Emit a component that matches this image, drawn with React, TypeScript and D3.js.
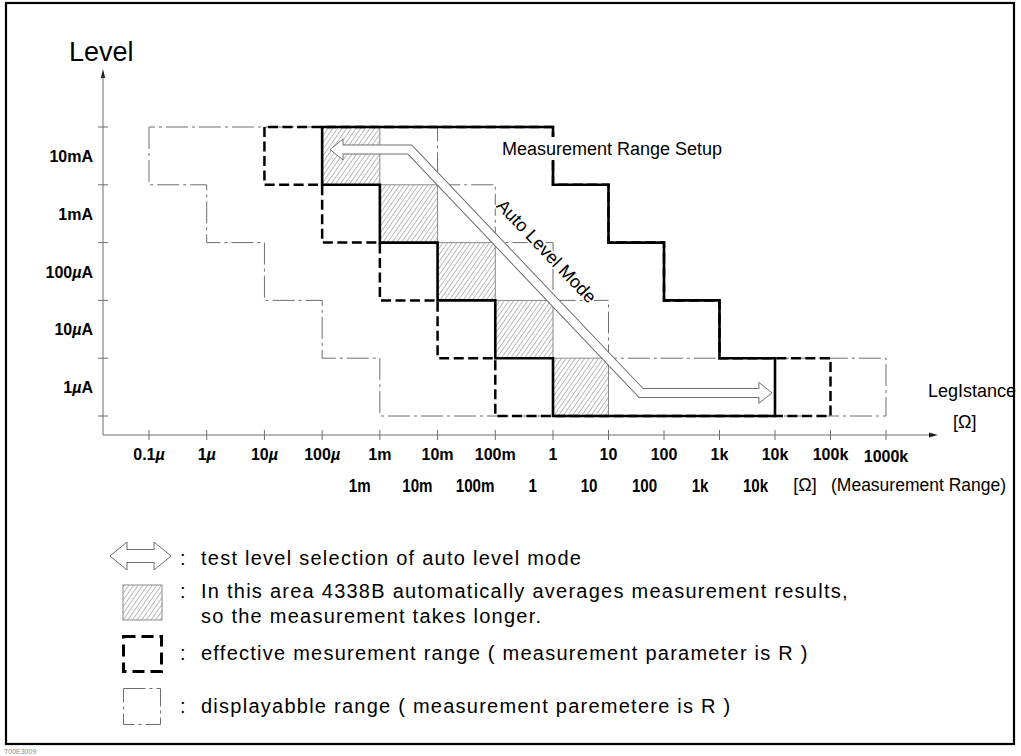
import React from "react";
import * as d3 from "d3";

// ---------- data ----------
const levels = ["10mA", "1mA", "100µA", "10µA", "1µA"];
const ohmTicks = [1e-7, 1e-6, 1e-5, 1e-4, 1e-3, 1e-2, 1e-1, 1, 10, 100, 1e3, 1e4, 1e5, 1e6];
const ohmTickLabels = ["0.1µ", "1µ", "10µ", "100µ", "1m", "10m", "100m", "1", "10", "100", "1k", "10k", "100k", "1000k"];
const rangeValues = [1e-3, 1e-2, 1e-1, 1, 10, 100, 1e3, 1e4];
const rangeLabels = ["1m", "10m", "100m", "1", "10", "100", "1k", "10k"];
// per level row (10mA ... 1µA): low / high resistance bounds
const displayLo = [1e-7, 1e-6, 1e-5, 1e-4, 1e-3];
const displayHi = [1e-2, 1e-1, 1, 10, 1e6];
const effectiveLo = [1e-5, 1e-4, 1e-3, 1e-2, 1e-1];
const effectiveHi = [1, 10, 100, 1e3, 1e5];
const setupLo = [1e-4, 1e-3, 1e-2, 1e-1, 1];
const setupHi = [1, 10, 100, 1e3, 1e4];
const avgLo = [1e-4, 1e-3, 1e-2, 1e-1, 1];
const avgHi = [1e-3, 1e-2, 1e-1, 1, 10];
// auto level mode arrow path (resistance, row position)
const autoArrowOhm = [1.37e-4, 3.3e-3, 38.5, 8.8e3];
const autoArrowRow = [0.39, 0.39, 4.6, 4.6];

const legendTexts = [
  "test level selection of auto level mode",
  "In this area 4338B automatically averages measurement results,",
  "so the measurement takes longer.",
  "effective mesurement range ( measurement parameter is R )",
  "displayabble range ( measurement paremetere is R )",
];

// ---------- scales ----------
const x = d3.scaleLog().domain([1e-7, 1, 1e6]).range([149, 553, 886]);
const yRow = d3.scaleLinear().domain([0, 5]).range([127, 416]);
const yBand = d3.scaleBand<string>().domain(levels).range([127, 416]);

const GRAY = "#6e6e6e";
const FONT = "'Liberation Sans', Arial, Helvetica, sans-serif";

function stairs(lo: number[], hi: number[]) {
  const pts: [number, number][] = [];
  lo.forEach((v, i) => {
    pts.push([x(v), yRow(i)]);
    pts.push([x(v), yRow(i + 1)]);
  });
  for (let i = hi.length - 1; i >= 0; i--) {
    pts.push([x(hi[i]), yRow(i + 1)]);
    pts.push([x(hi[i]), yRow(i)]);
  }
  return (d3.line()(pts) as string) + "Z";
}

function HollowArrow({ pts, headLen, headHalf, shaftHalf }: { pts: [number, number][]; headLen: number; headHalf: number; shaftHalf: number }) {
  const n = pts.length;
  const [x0, y0] = pts[0];
  const [x1, y1] = pts[n - 1];
  const outer: [number, number][] = [[x0 + headLen, y0], ...pts.slice(1, n - 1), [x1 - headLen, y1]];
  const inner: [number, number][] = [[x0 + headLen - 2, y0], ...pts.slice(1, n - 1), [x1 - headLen + 2, y1]];
  const line = d3.line();
  return (
    <g>
      <path d={line(outer) as string} fill="none" stroke={GRAY} strokeWidth={shaftHalf * 2 + 2} strokeLinejoin="miter" />
      <path d={`M${x0},${y0}L${x0 + headLen},${y0 - headHalf}L${x0 + headLen},${y0 + headHalf}Z`} fill="#fff" stroke={GRAY} strokeWidth={1} />
      <path d={`M${x1},${y1}L${x1 - headLen},${y1 - headHalf}L${x1 - headLen},${y1 + headHalf}Z`} fill="#fff" stroke={GRAY} strokeWidth={1} />
      <path d={line(inner) as string} fill="none" stroke="#fff" strokeWidth={shaftHalf * 2} strokeLinejoin="miter" />
    </g>
  );
}

function MuText({ label }: { label: string }) {
  const parts = label.split("µ");
  return (
    <>
      {parts.map((p, i) => (
        <React.Fragment key={i}>
          {i > 0 && <tspan fontStyle="italic">µ</tspan>}
          {p && <tspan>{p}</tspan>}
        </React.Fragment>
      ))}
    </>
  );
}

export default function App() {
  const arrowPts: [number, number][] = autoArrowOhm.map((r, i) => [x(r), yRow(autoArrowRow[i])]);
  const b1 = arrowPts[1];
  const b2 = arrowPts[2];
  const ang = (Math.atan2(b2[1] - b1[1], b2[0] - b1[0]) * 180) / Math.PI;
  const mx = (b1[0] + b2[0]) / 2;
  const my = (b1[1] + b2[1]) / 2;
  const rad = (ang * Math.PI) / 180;
  const off = 23;
  const tx = mx + Math.sin(rad) * off;
  const ty = my - Math.cos(rad) * off;

  const legendArrow: [number, number][] = [
    [110, 556],
    [171, 556],
  ];

  return (
    <div style={{ position: "absolute", left: 0, top: 0 }}>
      <svg width={1021} height={756} style={{ display: "block" }} fontFamily={FONT}>
        <defs>
          <pattern id="hatch" patternUnits="userSpaceOnUse" width={3.8} height={3.8} patternTransform="rotate(35)">
            <line x1={0} y1={0} x2={0} y2={3.8} stroke="#666" strokeWidth={0.9} />
          </pattern>
        </defs>
        <rect x={0} y={0} width={1021} height={756} fill="#fff" />
        {/* frame */}
        <rect x={6} y={3} width={1008} height={741} fill="none" stroke="#000" strokeWidth={2.2} />
        <text x={4} y={754} fontSize={7} fill="#888">T00E3009</text>

        {/* axes */}
        <line x1={103} y1={435} x2={103} y2={74} stroke={GRAY} strokeWidth={1} />
        <path d="M103,69 L100.8,78 L105.2,78 Z" fill="#222" />
        <line x1={103} y1={435} x2={932} y2={435} stroke={GRAY} strokeWidth={1} />
        <path d="M938,435 L929,432.6 L929,437.4 Z" fill="#222" />
        {d3.range(6).map((i) => (
          <line key={i} x1={98} x2={108} y1={yRow(i)} y2={yRow(i)} stroke={GRAY} strokeWidth={1} />
        ))}
        {ohmTicks.map((v) => (
          <line key={v} x1={x(v)} x2={x(v)} y1={430} y2={440} stroke={GRAY} strokeWidth={1} />
        ))}

        {/* title */}
        <text x={69} y={61} fontSize={27}>Level</text>

        {/* y labels */}
        {levels.map((l) => (
          <text key={l} x={93} y={(yBand(l) as number) + yBand.bandwidth() / 2 + 6} fontSize={16} fontWeight="bold" textAnchor="end">
            <MuText label={l} />
          </text>
        ))}

        {/* x labels row 1 */}
        {ohmTicks.map((v, i) => (
          <text key={v} x={x(v)} y={i === ohmTicks.length - 1 ? 462 : 460} fontSize={16} fontWeight="bold" textAnchor="middle">
            <MuText label={ohmTickLabels[i]} />
          </text>
        ))}
        {/* x labels row 2 (measurement range) */}
        {rangeValues.map((v, i) => (
          <text key={v} transform={`translate(${x(v * Math.pow(10, -0.35))},492) scale(0.82,1)`} fontSize={18.5} fontWeight="bold" textAnchor="middle">
            {rangeLabels[i]}
          </text>
        ))}
        <text x={805} y={491} fontSize={18} textAnchor="middle">[Ω]</text>
        <text x={831} y={491} fontSize={17.5}>(Measurement Range)</text>
        <text x={928} y={397} fontSize={18}>LegIstance</text>
        <text x={953} y={428} fontSize={18}>[Ω]</text>

        {/* displayable range */}
        <path d={stairs(displayLo, displayHi)} fill="none" stroke={GRAY} strokeWidth={1} strokeDasharray="22 4 3 4" />

        {/* averaging cells */}
        {avgLo.map((lo, i) => (
          <rect key={i} x={x(lo)} y={yRow(i)} width={x(avgHi[i]) - x(lo)} height={yRow(i + 1) - yRow(i)} fill="url(#hatch)" stroke="#8a8a8a" strokeWidth={1} />
        ))}

        {/* effective range */}
        <path d={stairs(effectiveLo, effectiveHi)} fill="none" stroke="#000" strokeWidth={2.5} strokeDasharray="10 4.5" />
        {/* measurement range setup */}
        <path d={stairs(setupLo, setupHi)} fill="none" stroke="#000" strokeWidth={2.6} strokeLinejoin="miter" />

        {/* measurement range setup label */}
        <rect x={499} y={137} width={232} height={23} fill="#fff" />
        <text x={502} y={155} fontSize={18}>Measurement Range Setup</text>

        {/* auto level arrow */}
        <HollowArrow pts={arrowPts} headLen={13} headHalf={10.5} shaftHalf={4} />
        <text transform={`translate(${tx},${ty}) rotate(${ang})`} fontSize={18} textAnchor="middle" stroke="#fff" strokeWidth={3} paintOrder="stroke" fill="#000">
          Auto Level Mode
        </text>

        {/* legend */}
        <HollowArrow pts={legendArrow} headLen={17} headHalf={14} shaftHalf={6} />
        <rect x={123} y={585} width={39} height={35} fill="url(#hatch)" stroke="#8a8a8a" strokeWidth={1} />
        <rect x={123.5} y={636.5} width={38} height={35} fill="none" stroke="#000" strokeWidth={3} strokeDasharray="12 6" />
        <rect x={123.5} y={688.5} width={37} height={36} fill="none" stroke={GRAY} strokeWidth={1} strokeDasharray="22 4 3 4" />
        {[565, 598, 660, 713].map((yy) => (
          <text key={yy} x={180} y={yy} fontSize={20}>:</text>
        ))}
        <g fontSize={20} letterSpacing={1.25}>
          <text x={201} y={565}>{legendTexts[0]}</text>
          <text x={201} y={598}>{legendTexts[1]}</text>
          <text x={201} y={623}>{legendTexts[2]}</text>
          <text x={201} y={660}>{legendTexts[3]}</text>
          <text x={201} y={713}>{legendTexts[4]}</text>
        </g>
      </svg>
    </div>
  );
}
